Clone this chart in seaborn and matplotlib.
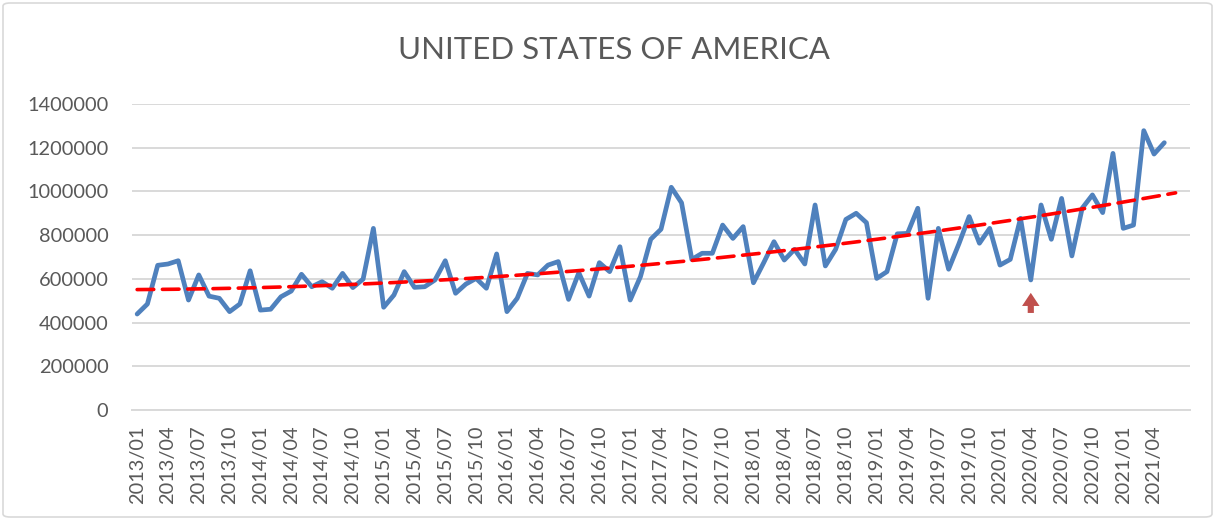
import numpy as np
import pandas as pd
import matplotlib
matplotlib.use("Agg")
import matplotlib.pyplot as plt
import seaborn as sns
from matplotlib.patches import FancyBboxPatch, FancyArrow
from matplotlib.ticker import FuncFormatter, FixedLocator

# ---------------- data ----------------
title = "UNITED STATES OF AMERICA"
months = [p.strftime("%Y/%m") for p in pd.period_range("2013-01", "2021-07", freq="M")]
values = [
    439000, 485000, 662000, 668000, 683000, 503000, 618000, 521000, 511000, 450000,
    485000, 637000, 457000, 461000, 518000, 544000, 621000, 564000, 587000, 557000,
    625000, 560000, 599000, 831000, 470000, 526000, 633000, 561000, 564000, 595000,
    683000, 534000, 576000, 602000, 557000, 714000, 450000, 511000, 625000, 618000,
    663000, 679000, 506000, 628000, 521000, 674000, 633000, 747000, 503000, 610000,
    781000, 827000, 1019000, 948000, 689000, 717000, 717000, 846000, 785000, 839000,
    582000, 674000, 770000, 686000, 735000, 668000, 938000, 659000, 735000, 872000,
    900000, 857000, 602000, 633000, 806000, 808000, 923000, 511000, 831000, 644000,
    760000, 885000, 763000, 831000, 663000, 689000, 877000, 595000, 938000, 781000,
    968000, 705000, 923000, 984000, 903000, 1174000, 831000, 846000, 1278000, 1171000,
    1223000,
]
y_ticks = [0, 200000, 400000, 600000, 800000, 1000000, 1200000, 1400000]
label_step = 3
last_label = "2021/04"
trend_order = 2
arrow_month = "2020/04"
arrow_from, arrow_to = 444000, 536000

# ---------------- style ----------------
sns.set_style("white")
plt.rcParams["font.family"] = ["Lato", "DejaVu Sans"]
text_color = "#595959"
grid_color = "#D9D9D9"

fig = plt.figure(figsize=(12.15, 5.2), dpi=100)
ax = fig.add_axes([132 / 1215, 1 - 410 / 520, (1190 - 132) / 1215, (410 - 104) / 520])

df = pd.DataFrame({"idx": np.arange(len(values)), "value": values})
sns.lineplot(data=df, x="idx", y="value", ax=ax, color="#4F81BD", linewidth=3.4,
             solid_joinstyle="round", solid_capstyle="round", zorder=3)

# polynomial trendline (least squares, like Excel's order-2 trendline)
coef = np.polyfit(df["idx"], df["value"], trend_order)
tx = np.linspace(0, len(months) - 1.9, 200)
ax.plot(tx, np.polyval(coef, tx), color="#FF0000", linewidth=2.6,
        dashes=(4.6, 2.4), dash_capstyle="round", zorder=4)

# arrow annotation
ai = months.index(arrow_month)
ax.add_patch(FancyArrow(ai, arrow_from, 0, arrow_to - arrow_from, width=0.6,
                        head_width=1.7, head_length=60000, length_includes_head=True,
                        color="#C0504D", linewidth=0, zorder=5))

ax.set_xlim(-0.5, len(months) - 0.5)
ax.set_ylim(0, 1400000)
ax.yaxis.set_major_locator(FixedLocator(y_ticks))
ax.yaxis.set_major_formatter(FuncFormatter(lambda v, p: f"{int(v)}"))
tick_pos = list(range(0, months.index(last_label) + 1, label_step))
ax.set_xticks(tick_pos)
ax.set_xticklabels([months[i] for i in tick_pos], rotation=90)

ax.grid(axis="y", color=grid_color, linewidth=1.4)
ax.grid(axis="x", visible=False)
for s in ["top", "right", "left"]:
    ax.spines[s].set_visible(False)
ax.spines["bottom"].set_color(grid_color)
ax.spines["bottom"].set_linewidth(1.4)
ax.tick_params(axis="both", length=0, labelsize=14.4, labelcolor=text_color)
ax.tick_params(axis="y", pad=17)
ax.tick_params(axis="x", pad=11)
ax.set_xlabel("")
ax.set_ylabel("")

fig.text(614 / 1215, 1 - 50 / 520, title, ha="center", va="center",
         fontsize=22.5, color=text_color)

fig.patches.append(FancyBboxPatch((3 / 1215, 3 / 520), 1 - 6 / 1215, 1 - 6 / 520,
                                  boxstyle="round,pad=0,rounding_size=0.006",
                                  transform=fig.transFigure, fill=False,
                                  edgecolor=grid_color, linewidth=1.2))

fig.savefig("out.png", dpi=100)
